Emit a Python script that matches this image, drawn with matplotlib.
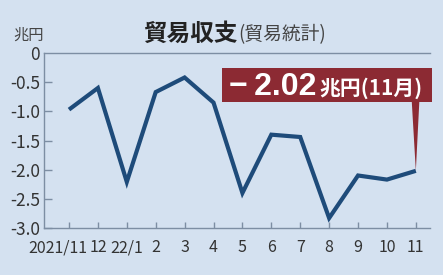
import matplotlib
matplotlib.use("Agg")
import matplotlib.pyplot as plt
from matplotlib.patches import Rectangle, Polygon
import matplotlib.transforms as mtransforms

plt.rcParams['font.family'] = ['Noto Sans CJK JP', 'DejaVu Sans']

# data (trillion yen)
months = ["2021/11", "12", "22/1", "2", "3", "4", "5", "6", "7", "8", "9", "10", "11"]
balance = [-0.97, -0.60, -2.21, -0.67, -0.42, -0.85, -2.40, -1.40, -1.44, -2.83, -2.10, -2.17, -2.02]
yticks = [0, -0.5, -1.0, -1.5, -2.0, -2.5, -3.0]
ytick_labels = ["0", "-0.5", "-1.0", "-1.5", "-2.0", "-2.5", "-3.0"]
latest_value = "2.02"
latest_month = "11月"

bg = "#d4e1f0"
axis_col = "#7d8ea3"
line_col = "#1e4b7a"
red = "#8c2a33"
text_col = "#333333"

fig = plt.figure(figsize=(4.43, 2.75), dpi=100)
fig.patch.set_facecolor(bg)
ax = fig.add_axes([44 / 443, 1 - 228 / 275, (430 - 44) / 443, (228 - 53) / 275])
ax.set_facecolor(bg)

x = list(range(len(months)))
ax.plot(x, balance, color=line_col, lw=3.0, solid_joinstyle='miter', solid_capstyle='butt', zorder=3)

ax.set_xlim(-0.865, 12.49)
ax.set_ylim(-3.0, 0)
ax.set_yticks(yticks)
ax.set_yticklabels(ytick_labels)
ax.set_xticks(x)
ax.set_xticklabels(months)

for s in ["left", "bottom", "top"]:
    ax.spines[s].set_color(axis_col)
    ax.spines[s].set_linewidth(1.0)
ax.spines["right"].set_visible(False)

ax.tick_params(axis='y', direction='in', length=6, width=1, color=axis_col,
               labelsize=12.5, labelcolor=text_col, pad=3)
ax.tick_params(axis='x', direction='in', length=4.5, width=1, color=axis_col,
               labelsize=11.5, labelcolor=text_col, pad=8)
ax.yaxis.get_major_ticks()[0].tick1line.set_visible(False)

# first label sits left of its tick, like the original
labels = ax.get_xticklabels()
for i, ha, dx in [(0, 'right', 18), (1, 'center', 1)]:
    labels[i].set_ha(ha)
    labels[i].set_transform(labels[i].get_transform()
                            + mtransforms.ScaledTranslation(dx / 100, 0, fig.dpi_scale_trans))

# titles
fig.text(143 / 443, 1 - 34 / 275, "貿易収支", fontsize=17, fontweight='bold', color="#222222",
         ha='left', va='center')
fig.text(238 / 443, 1 - 35 / 275, "(貿易統計)", fontsize=13.5, color="#444444", ha='left', va='center')
fig.text(13 / 443, 1 - 35 / 275, "兆円", fontsize=11, color="#444444", ha='left', va='center')

# callout box for latest value
n = len(balance) - 1
box_l, box_r, box_t, box_b = 5.29, 12.56, -0.257, -0.84
ax.add_patch(Rectangle((box_l, box_b), box_r - box_l, box_t - box_b, facecolor=red,
                       edgecolor='none', clip_on=False, zorder=4))
ax.add_patch(Polygon([(n - 0.14, box_b), (n + 0.12, box_b), (n, balance[n])], closed=True,
                     facecolor=red, edgecolor='none', clip_on=False, zorder=4))
t1 = ax.text(5.55, -0.72, "−\u2009" + latest_value, fontsize=23, fontweight='bold',
             color='white', family=['Liberation Sans', 'DejaVu Sans'], ha='left', va='baseline', zorder=5)
fig.canvas.draw()
bb = t1.get_window_extent().transformed(ax.transData.inverted())
ax.text(bb.x1 + 0.08, -0.72, "兆円(" + latest_month + ")", fontsize=15, fontweight='bold',
        color='white', ha='left', va='baseline', zorder=5)

fig.savefig("out.png", dpi=100, facecolor=bg)
